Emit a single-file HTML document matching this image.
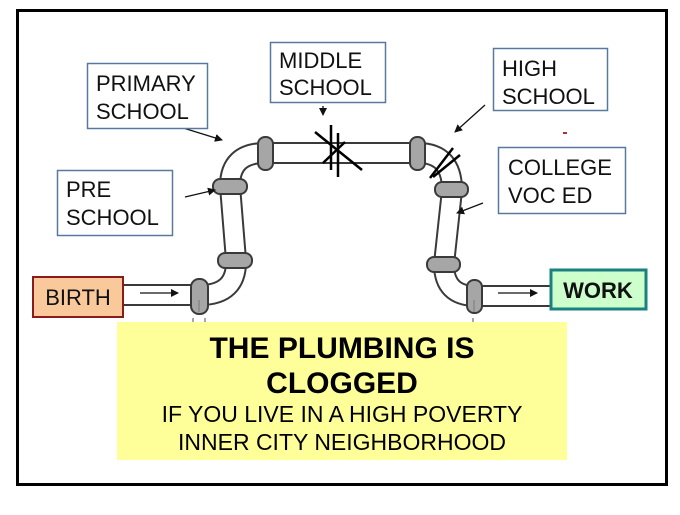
<!DOCTYPE html>
<html><head><style>
html,body{margin:0;padding:0;background:#fff;}
body{width:680px;height:510px;overflow:hidden;}
text{font-family:"Liberation Sans",Arial,sans-serif;}
</style></head><body>
<svg width="680" height="510" viewBox="0 0 680 510" xmlns="http://www.w3.org/2000/svg">
<defs>
<marker id="ah" markerWidth="8" markerHeight="8" refX="7" refY="4" orient="auto" markerUnits="userSpaceOnUse">
<path d="M0,0 L8,4 L0,8 z" fill="#111"/></marker>
</defs>
<rect x="17.5" y="10.5" width="649" height="474" fill="#fff" stroke="#000" stroke-width="3"/>
<path d="M120,295 L200,295 Q237,295 236,260 L230,186 Q230,153 265,153 L418,153 Q452,153 452,190 L444,264 Q444,296 476,296 L553,296" fill="none" stroke="#3a3a3a" stroke-width="22"/>
<path d="M120,295 L200,295 Q237,295 236,260 L230,186 Q230,153 265,153 L418,153 Q452,153 452,190 L444,264 Q444,296 476,296 L553,296" fill="none" stroke="#fff" stroke-width="18"/>
<g fill="#a6a6a6" stroke="#3a3a3a" stroke-width="2">
<rect x="191" y="279" width="17" height="35" rx="8"/>
<rect x="218" y="253" width="34" height="15" rx="7"/>
<rect x="213" y="179" width="34" height="15" rx="7"/>
<rect x="258" y="137" width="15" height="33" rx="7"/>
<rect x="410" y="137" width="15" height="33" rx="7"/>
<rect x="435" y="182" width="33" height="15" rx="7"/>
<rect x="427" y="257" width="33" height="15" rx="7"/>
<rect x="467" y="280" width="15" height="33" rx="7"/>
</g>
<g stroke="#888" stroke-width="1.5">
<line x1="199" y1="300" x2="199" y2="312"/><line x1="474" y1="300" x2="474" y2="312"/>
<line x1="193" y1="318" x2="193" y2="325"/><line x1="205" y1="318" x2="205" y2="325"/>
<line x1="473" y1="318" x2="473" y2="325"/>
</g>
<g stroke="#000" stroke-width="2.5">
<line x1="315" y1="132" x2="362" y2="170"/><line x1="323" y1="163" x2="345" y2="142"/>
<line x1="331" y1="125" x2="331" y2="170"/><line x1="338" y1="133" x2="338" y2="177"/>
<line x1="430" y1="178" x2="453" y2="148"/><line x1="433" y1="177" x2="460" y2="155"/>
</g>
<g stroke="#111" stroke-width="1.3" fill="none" marker-end="url(#ah)">
<line x1="180" y1="127" x2="222" y2="140"/>
<line x1="323" y1="106" x2="323" y2="115"/>
<line x1="485" y1="105" x2="455" y2="132"/>
<line x1="185" y1="197" x2="215" y2="190"/>
<line x1="483" y1="203" x2="457" y2="213"/>
<line x1="140" y1="293" x2="178" y2="293"/>
<line x1="498" y1="293" x2="537" y2="293"/>
</g>
<rect x="563" y="132" width="4" height="2" fill="#a33"/>
<g fill="#fff" stroke="#5878a0" stroke-width="1.5">
<rect x="87.5" y="63.5" width="120" height="65"/>
<rect x="270.5" y="42.5" width="115" height="60"/>
<rect x="493.5" y="48.5" width="114" height="62"/>
<rect x="57.5" y="170.5" width="115" height="65"/>
<rect x="498.5" y="147.5" width="127" height="66"/>
</g>
<g font-size="22" fill="#111">
<text x="96" y="91">PRIMARY</text><text x="96" y="119">SCHOOL</text>
<text x="279" y="68">MIDDLE</text><text x="279" y="95">SCHOOL</text>
<text x="502" y="76">HIGH</text><text x="502" y="104">SCHOOL</text>
<text x="66" y="197">PRE</text><text x="66" y="225">SCHOOL</text>
<text x="508" y="175">COLLEGE</text><text x="508" y="203">VOC ED</text>
</g>
<rect x="33" y="277" width="90" height="40" fill="#f9c89b" stroke="#8b1a1a" stroke-width="2"/>
<text x="78" y="305" font-size="22" text-anchor="middle" fill="#111">BIRTH</text>
<rect x="551" y="270" width="95" height="39" fill="#ccffcc" stroke="#1a8080" stroke-width="3"/>
<text x="598" y="298" font-size="22" text-anchor="middle" font-weight="bold" fill="#111">WORK</text>
<rect x="117" y="322" width="450" height="138" fill="#ffff99"/>
<g text-anchor="middle" fill="#000">
<text x="342" y="358" font-size="30" font-weight="bold">THE PLUMBING IS</text>
<text x="342" y="393" font-size="30" font-weight="bold">CLOGGED</text>
<text x="342" y="422" font-size="23">IF YOU LIVE IN A HIGH POVERTY</text>
<text x="342" y="450" font-size="23">INNER CITY NEIGHBORHOOD</text>
</g>
</svg>
</body></html>
